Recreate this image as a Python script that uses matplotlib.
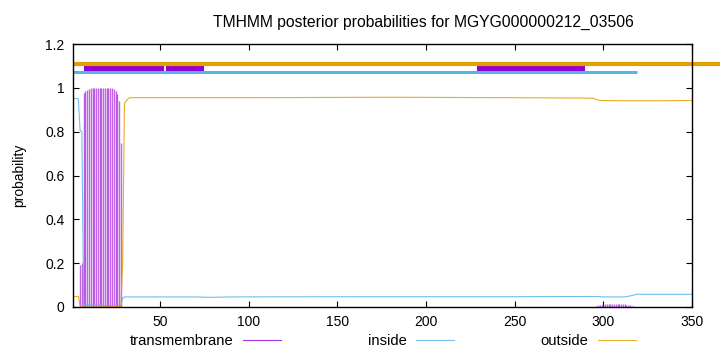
import matplotlib
matplotlib.use("Agg")
import matplotlib.pyplot as plt
from matplotlib.lines import Line2D

plt.rcParams['font.family'] = ['Liberation Sans', 'DejaVu Sans']

TITLE = "TMHMM posterior probabilities for MGYG000000212_03506"
SEQ_START = 1
SEQ_END = 350

# posterior probability of transmembrane, drawn as impulses per residue
tm_pos = list(range(5, 29)) + list(range(151, 158)) + list(range(200, 226, 3)) + list(range(296, 319))
tm_val = [0.19, 0.20, 0.975, 0.985, 0.99, 0.995,
          1.0, 1.0, 1.0, 1.0, 1.0, 1.0, 1.0, 1.0, 1.0, 1.0, 1.0, 1.0,
          0.998, 0.995, 0.985, 0.97, 0.94, 0.75] + \
         [0.002] * 7 + [0.002] * 9 + \
         [0.004, 0.007, 0.009, 0.011, 0.012, 0.013, 0.014, 0.014, 0.014, 0.014, 0.014, 0.014,
          0.014, 0.014, 0.013, 0.013, 0.012, 0.011, 0.010, 0.008, 0.006, 0.004, 0.002]

# inside / outside probability curves
ins_pos = [1, 4, 5, 6, 7, 28, 29, 30, 70, 78, 90, 160, 250, 296, 300, 312, 316, 319, 350]
ins_val = [0.952, 0.950, 0.805, 0.80, 0.01, 0.005, 0.04, 0.046, 0.046, 0.044, 0.046,
           0.047, 0.047, 0.048, 0.046, 0.046, 0.052, 0.058, 0.058]
out_pos = [1, 4, 5, 28, 29, 30, 31, 32, 33, 100, 180, 250, 294, 298, 320, 350]
out_val = [0.048, 0.048, 0.005, 0.003, 0.2, 0.93, 0.94, 0.95, 0.955, 0.955, 0.957,
           0.955, 0.953, 0.942, 0.941, 0.942]

# predicted topology bars at the top
top_out_range = (1, 366)
top_out_y = 1.11
top_in_range = (1, 319)
top_in_y = 1.071
tm_box_start = [7.2, 29.2, 53.3, 228.6]
tm_box_end = [29.2, 52.3, 74.8, 289.6]
tm_box_low = [1.063, 1.063, 1.063, 1.063]
tm_box_high = [1.114, 1.101, 1.101, 1.101]

c_tm = '#9400D3'
c_in = '#56B4E9'
c_out = '#E69F00'

fig = plt.figure(figsize=(7.2, 3.52), dpi=100)
ax = fig.add_axes([73 / 720, 45 / 352, 619 / 720, 263 / 352])

ax.vlines(tm_pos, 0, tm_val, color=c_tm, lw=1, alpha=0.6)
ax.plot(ins_pos, ins_val, color=c_in, lw=0.8, alpha=0.85)
ax.plot(out_pos, out_val, color=c_out, lw=0.8, alpha=0.85)

ax.plot(top_out_range, [top_out_y, top_out_y], color=c_out, lw=3, solid_capstyle='butt', clip_on=False)
ax.plot(top_in_range, [top_in_y, top_in_y], color=c_in, lw=2.2, solid_capstyle='butt')
for s, e, lo, hi in zip(tm_box_start, tm_box_end, tm_box_low, tm_box_high):
    ax.bar(s, hi - lo, width=e - s, bottom=lo, align='edge', color=c_tm, lw=0)

ax.set_xlim(SEQ_START, SEQ_END)
ax.set_ylim(0, 1.2)
ax.set_xticks([50, 100, 150, 200, 250, 300, 350])
ax.set_yticks([0, 0.2, 0.4, 0.6, 0.8, 1.0, 1.2])
ax.set_yticklabels(['0', '0.2', '0.4', '0.6', '0.8', '1', '1.2'])
ax.tick_params(direction='in', top=True, right=True, length=4, width=0.8,
               labelsize=10, pad=6)
for sp in ax.spines.values():
    sp.set_linewidth(1)

ax.set_ylabel('probability', fontsize=10, labelpad=14)
fig.text(423 / 720, 1 - 22 / 352, TITLE, ha='center', va='center', fontsize=11.3)

handles = [Line2D([], [], color=c_tm, lw=0.8, alpha=0.8),
           Line2D([], [], color=c_in, lw=0.8, alpha=0.8),
           Line2D([], [], color=c_out, lw=0.8, alpha=0.8)]
fig.legend(handles, ['transmembrane', 'inside', 'outside'], loc='center',
           bbox_to_anchor=(383 / 720, 1 - 341 / 352), ncol=3, markerfirst=False,
           frameon=False, fontsize=10.6, handlelength=2.6, handletextpad=0.6,
           columnspacing=5.9)

fig.savefig('out.png', dpi=100)
